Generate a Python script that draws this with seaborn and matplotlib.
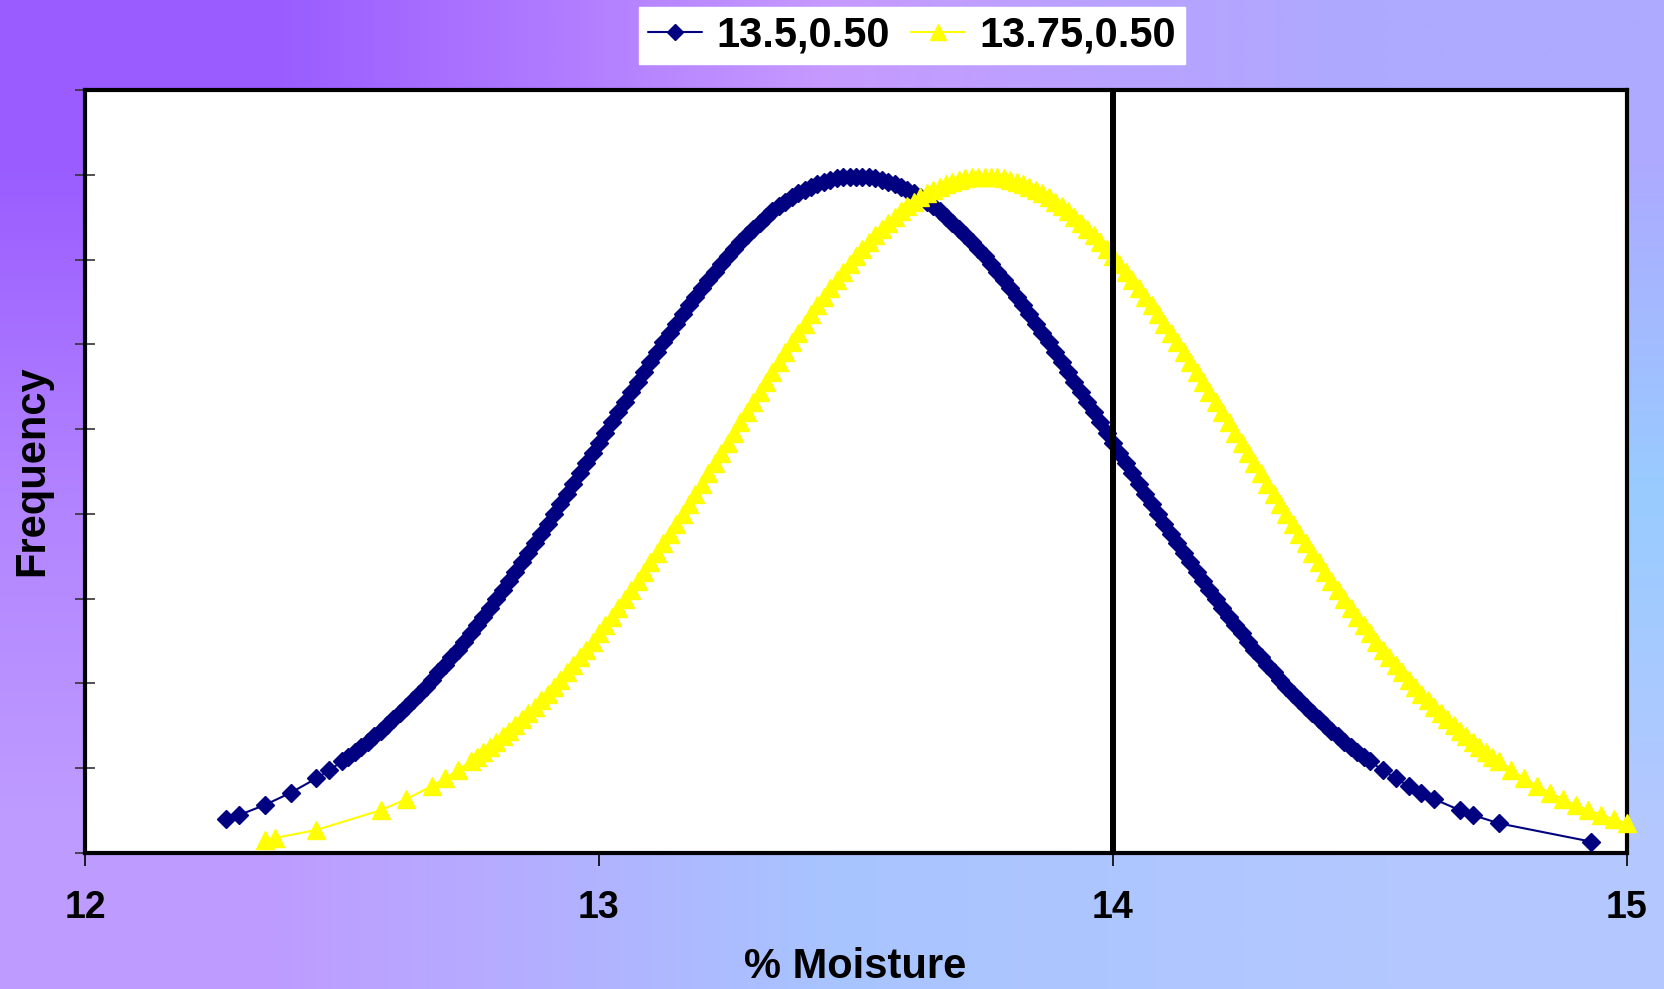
import numpy as np
import matplotlib
matplotlib.use("Agg")
import matplotlib.pyplot as plt
import seaborn as sns
from matplotlib.colors import to_rgb

# ---------------- data ----------------
series_labels = ["13.5,0.50", "13.75,0.50"]
x_ticks = [12, 13, 14, 15]
x_tick_labels = ["12", "13", "14", "15"]
y_ticks = [0.0, 0.1, 0.2, 0.3, 0.4, 0.5, 0.6, 0.7, 0.8, 0.9]
limit_line_x = 14.0

# sparse tails of the 13.5 series
blue_left_x = [12.275, 12.3, 12.35, 12.4, 12.45, 12.475]
blue_left_y = [0.0397, 0.0448, 0.0567, 0.0710, 0.0880, 0.0976]
blue_right_x = [14.525, 14.55, 14.575, 14.6, 14.625, 14.675, 14.7, 14.75, 14.93]
blue_right_y = [0.0976, 0.0880, 0.0791, 0.0710, 0.0635, 0.0504, 0.0448, 0.0351, 0.0134]

# dense body of the 13.5 series
blue_core_x = [
    12.5, 12.5125, 12.525, 12.5375, 12.55, 12.5625, 12.575, 12.5875,
    12.6, 12.6125, 12.625, 12.6375, 12.65, 12.6625, 12.675, 12.6875,
    12.7, 12.7125, 12.725, 12.7375, 12.75, 12.7625, 12.775, 12.7875,
    12.8, 12.8125, 12.825, 12.8375, 12.85, 12.8625, 12.875, 12.8875,
    12.9, 12.9125, 12.925, 12.9375, 12.95, 12.9625, 12.975, 12.9875,
    13.0, 13.0125, 13.025, 13.0375, 13.05, 13.0625, 13.075, 13.0875,
    13.1, 13.1125, 13.125, 13.1375, 13.15, 13.1625, 13.175, 13.1875,
    13.2, 13.2125, 13.225, 13.2375, 13.25, 13.2625, 13.275, 13.2875,
    13.3, 13.3125, 13.325, 13.3375, 13.35, 13.3625, 13.375, 13.3875,
    13.4, 13.4125, 13.425, 13.4375, 13.45, 13.4625, 13.475, 13.4875,
    13.5, 13.5125, 13.525, 13.5375, 13.55, 13.5625, 13.575, 13.5875,
    13.6, 13.6125, 13.625, 13.6375, 13.65, 13.6625, 13.675, 13.6875,
    13.7, 13.7125, 13.725, 13.7375, 13.75, 13.7625, 13.775, 13.7875,
    13.8, 13.8125, 13.825, 13.8375, 13.85, 13.8625, 13.875, 13.8875,
    13.9, 13.9125, 13.925, 13.9375, 13.95, 13.9625, 13.975, 13.9875,
    14.0, 14.0125, 14.025, 14.0375, 14.05, 14.0625, 14.075, 14.0875,
    14.1, 14.1125, 14.125, 14.1375, 14.15, 14.1625, 14.175, 14.1875,
    14.2, 14.2125, 14.225, 14.2375, 14.25, 14.2625, 14.275, 14.2875,
    14.3, 14.3125, 14.325, 14.3375, 14.35, 14.3625, 14.375, 14.3875,
    14.4, 14.4125, 14.425, 14.4375, 14.45, 14.4625, 14.475, 14.4875,
    14.5,
]

# sparse tails of the 13.75 series
yellow_left_x = [12.35, 12.37, 12.45, 12.575, 12.625, 12.675, 12.7, 12.725]
yellow_left_y = [0.0158, 0.0177, 0.0272, 0.0504, 0.0635, 0.0791, 0.0880, 0.0976]
yellow_right_x = [14.775, 14.8, 14.825, 14.85, 14.875, 14.9, 14.925, 14.95, 14.975, 15.0]
yellow_right_y = [0.0976, 0.0880, 0.0791, 0.0710, 0.0635, 0.0567, 0.0504, 0.0448, 0.0397, 0.0351]

# dense body of the 13.75 series
yellow_core_x = [
    12.75, 12.7625, 12.775, 12.7875, 12.8, 12.8125, 12.825, 12.8375,
    12.85, 12.8625, 12.875, 12.8875, 12.9, 12.9125, 12.925, 12.9375,
    12.95, 12.9625, 12.975, 12.9875, 13.0, 13.0125, 13.025, 13.0375,
    13.05, 13.0625, 13.075, 13.0875, 13.1, 13.1125, 13.125, 13.1375,
    13.15, 13.1625, 13.175, 13.1875, 13.2, 13.2125, 13.225, 13.2375,
    13.25, 13.2625, 13.275, 13.2875, 13.3, 13.3125, 13.325, 13.3375,
    13.35, 13.3625, 13.375, 13.3875, 13.4, 13.4125, 13.425, 13.4375,
    13.45, 13.4625, 13.475, 13.4875, 13.5, 13.5125, 13.525, 13.5375,
    13.55, 13.5625, 13.575, 13.5875, 13.6, 13.6125, 13.625, 13.6375,
    13.65, 13.6625, 13.675, 13.6875, 13.7, 13.7125, 13.725, 13.7375,
    13.75, 13.7625, 13.775, 13.7875, 13.8, 13.8125, 13.825, 13.8375,
    13.85, 13.8625, 13.875, 13.8875, 13.9, 13.9125, 13.925, 13.9375,
    13.95, 13.9625, 13.975, 13.9875, 14.0, 14.0125, 14.025, 14.0375,
    14.05, 14.0625, 14.075, 14.0875, 14.1, 14.1125, 14.125, 14.1375,
    14.15, 14.1625, 14.175, 14.1875, 14.2, 14.2125, 14.225, 14.2375,
    14.25, 14.2625, 14.275, 14.2875, 14.3, 14.3125, 14.325, 14.3375,
    14.35, 14.3625, 14.375, 14.3875, 14.4, 14.4125, 14.425, 14.4375,
    14.45, 14.4625, 14.475, 14.4875, 14.5, 14.5125, 14.525, 14.5375,
    14.55, 14.5625, 14.575, 14.5875, 14.6, 14.6125, 14.625, 14.6375,
    14.65, 14.6625, 14.675, 14.6875, 14.7, 14.7125, 14.725, 14.7375,
    14.75,
]

# frequency values of the dense body (same bell shape for both series)
core_frequency = [
    0.1080, 0.1135, 0.1192, 0.1251, 0.1312, 0.1376, 0.1441, 0.1509,
    0.1579, 0.1651, 0.1726, 0.1802, 0.1881, 0.1962, 0.2045, 0.2131,
    0.2218, 0.2308, 0.2400, 0.2494, 0.2590, 0.2689, 0.2789, 0.2891,
    0.2995, 0.3100, 0.3208, 0.3317, 0.3427, 0.3540, 0.3653, 0.3768,
    0.3884, 0.4001, 0.4119, 0.4238, 0.4357, 0.4477, 0.4598, 0.4718,
    0.4840, 0.4960, 0.5081, 0.5202, 0.5322, 0.5441, 0.5560, 0.5677,
    0.5794, 0.5909, 0.6023, 0.6135, 0.6245, 0.6354, 0.6460, 0.6563,
    0.6665, 0.6763, 0.6859, 0.6952, 0.7041, 0.7128, 0.7211, 0.7290,
    0.7366, 0.7437, 0.7505, 0.7569, 0.7628, 0.7683, 0.7734, 0.7780,
    0.7821, 0.7858, 0.7890, 0.7917, 0.7939, 0.7957, 0.7969, 0.7977,
    0.7979,
    0.7977, 0.7969, 0.7957, 0.7939, 0.7917, 0.7890, 0.7858, 0.7821,
    0.7780, 0.7734, 0.7683, 0.7628, 0.7569, 0.7505, 0.7437, 0.7366,
    0.7290, 0.7211, 0.7128, 0.7041, 0.6952, 0.6859, 0.6763, 0.6665,
    0.6563, 0.6460, 0.6354, 0.6245, 0.6135, 0.6023, 0.5909, 0.5794,
    0.5677, 0.5560, 0.5441, 0.5322, 0.5202, 0.5081, 0.4960, 0.4840,
    0.4718, 0.4598, 0.4477, 0.4357, 0.4238, 0.4119, 0.4001, 0.3884,
    0.3768, 0.3653, 0.3540, 0.3427, 0.3317, 0.3208, 0.3100, 0.2995,
    0.2891, 0.2789, 0.2689, 0.2590, 0.2494, 0.2400, 0.2308, 0.2218,
    0.2131, 0.2045, 0.1962, 0.1881, 0.1802, 0.1726, 0.1651, 0.1579,
    0.1509, 0.1441, 0.1376, 0.1312, 0.1251, 0.1192, 0.1135, 0.1080,
]

blue_x = blue_left_x + blue_core_x + blue_right_x
blue_y = blue_left_y + core_frequency + blue_right_y
yellow_x = yellow_left_x + yellow_core_x + yellow_right_x
yellow_y = yellow_left_y + core_frequency + yellow_right_y

# background gradient colours (3x3 grid, top row first)
bg_colors = [
    ["#9A5CFF", "#C69AFF", "#ADAAFF"],
    ["#B283FF", "#B8B0FF", "#99CCFF"],
    ["#BE9CFF", "#A8C4FF", "#B4C8FF"],
]

# ---------------- drawing ----------------
sns.set_style("white")
plt.rcParams["font.family"] = ["Liberation Sans", "DejaVu Sans"]
plt.rcParams["font.weight"] = "bold"
plt.rcParams["text.color"] = "black"
plt.rcParams["axes.labelcolor"] = "black"
plt.rcParams["xtick.color"] = "black"
plt.rcParams["ytick.color"] = "black"

W, H = 1664, 989
fig = plt.figure(figsize=(W / 100, H / 100), dpi=100)

bg = fig.add_axes([0, 0, 1, 1], zorder=-10)
grid = np.array([[to_rgb(c) for c in row] for row in bg_colors])
bg.imshow(grid, extent=[0, 1, 0, 1], aspect="auto",
          interpolation="bilinear", origin="upper")
bg.set_axis_off()

L, R, T, B = 85, 1627, 90, 853
ax = fig.add_axes([L / W, 1 - B / H, (R - L) / W, (B - T) / H])
ax.set_facecolor("white")

sns.lineplot(x=blue_x, y=blue_y, ax=ax, color="#000080", marker="D",
             markersize=9.5, markeredgecolor="#000080", markeredgewidth=1.0,
             linewidth=1.5, estimator=None, sort=False,
             label=series_labels[0], clip_on=False, zorder=3)
sns.lineplot(x=yellow_x, y=yellow_y, ax=ax, color="#FFFF00", marker="^",
             markersize=13.5, markeredgecolor="#FFFF00", markeredgewidth=1.0,
             linewidth=1.5, estimator=None, sort=False,
             label=series_labels[1], clip_on=False, zorder=4)

ax.axvline(limit_line_x, color="black", linewidth=4.3, zorder=5)

ax.set_xlim(x_ticks[0], x_ticks[-1])
ax.set_ylim(y_ticks[0], y_ticks[-1])
ax.set_xticks(x_ticks)
ax.set_xticklabels(x_tick_labels, fontsize=27, fontweight="bold", color="black")
ax.set_yticks(y_ticks)
ax.set_yticklabels([])

ax.tick_params(axis="x", direction="out", length=9, width=1.2,
               color="black", pad=18, bottom=True)
ax.tick_params(axis="y", direction="inout", length=14, width=1.2,
               color="#333333", left=True)

for sp in ax.spines.values():
    sp.set_visible(True)
    sp.set_color("black")
    sp.set_linewidth(3)

ax.set_xlabel("% Moisture", fontsize=30, fontweight="bold", color="black")
ax.set_ylabel("Frequency", fontsize=30, fontweight="bold", color="black")
ax.xaxis.set_label_coords((855 - L) / (R - L), (B - 947) / (B - T))
ax.yaxis.label.set_verticalalignment("center")
ax.yaxis.set_label_coords((32 - L) / (R - L), (B - 471) / (B - T))

handles, labels = ax.get_legend_handles_labels()
if ax.get_legend() is not None:
    ax.get_legend().remove()
leg = fig.legend(handles, labels, loc="upper center",
                 bbox_to_anchor=(912 / W, 1 - 7 / H), ncol=2,
                 frameon=True, fancybox=False, framealpha=1,
                 facecolor="white", edgecolor="white",
                 prop={"size": 30, "weight": "bold"},
                 borderpad=0.2, handlelength=1.3, handletextpad=0.35,
                 columnspacing=0.5, borderaxespad=0, markerscale=0.85)
for t in leg.get_texts():
    t.set_color("black")

fig.savefig("out.png", dpi=100)
